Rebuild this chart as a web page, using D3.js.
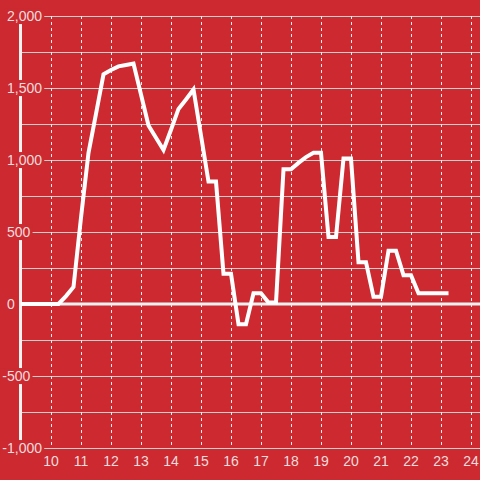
<!DOCTYPE html>
<html>
<head>
<meta charset="utf-8">
<script src="https://cdn.jsdelivr.net/npm/d3@7"></script>
<style>
  html, body { margin: 0; padding: 0; background: #cc2a30; }
  svg { display: block; font-family: "Liberation Sans", Arial, sans-serif; }
</style>
</head>
<body>
<svg id="chart"></svg>
<script>
// time of day (hours) and value
var times = [9, 9.25, 9.5, 9.75, 10, 10.25, 10.5, 10.75, 11, 11.25, 11.5, 11.75,
  12, 12.25, 12.5, 12.75, 13, 13.25, 13.5, 13.75, 14, 14.25, 14.5, 14.75,
  15, 15.25, 15.5, 15.75, 16, 16.25, 16.5, 16.75, 17, 17.25, 17.5, 17.75,
  18, 18.25, 18.5, 18.75, 19, 19.25, 19.5, 19.75, 20, 20.25, 20.5, 20.75,
  21, 21.25, 21.5, 21.75, 22, 22.25, 22.5, 22.75, 23, 23.25]
var values = [0, 0, 0, 0, 0, 0, 55, 118, 600, 1050, 1320, 1595,
  1625, 1650, 1660, 1670, 1455, 1240, 1155, 1070, 1210, 1355, 1420, 1490,
  1170, 850, 850, 210, 210, -140, -140, 75, 75, 10, 10, 935,
  935, 980, 1020, 1050, 1050, 465, 465, 1010, 1010, 290, 290, 50,
  50, 370, 370, 200, 200, 75, 75, 75, 75, 75]

var xTicks = [10, 11, 12, 13, 14, 15, 16, 17, 18, 19, 20, 21, 22, 23, 24]
var yTicks = [-1000, -500, 0, 500, 1000, 1500, 2000]
var yGrid = [-1000, -750, -500, -250, 250, 500, 750, 1000, 1250, 1500, 1750, 2000]

var width = 480
var height = 480
var bg = "#cc2a30"
var textColor = "#f3dcdd"

var svg = d3.select("#chart")
  .attr("width", width)
  .attr("height", height)

svg.append("rect")
  .attr("width", width)
  .attr("height", height)
  .attr("fill", bg)

var x = d3.scaleLinear().domain([9, 24.3]).range([21, 480])
var y = d3.scaleLinear().domain([-1000, 2000]).range([448, 16])

var axisX = x(9) - 0.5

// horizontal grid
svg.append("g")
  .selectAll("line")
  .data(yGrid)
  .enter()
  .append("line")
  .attr("x1", axisX)
  .attr("x2", width)
  .attr("y1", d => Math.round(y(d)) + 0.5)
  .attr("y2", d => Math.round(y(d)) + 0.5)
  .attr("stroke", "#cfcfcf")
  .attr("stroke-width", 1.2)

// vertical dashed grid
svg.append("g")
  .selectAll("line")
  .data(xTicks)
  .enter()
  .append("line")
  .attr("x1", d => Math.round(x(d)) + 0.5)
  .attr("x2", d => Math.round(x(d)) + 0.5)
  .attr("y1", y(2000))
  .attr("y2", y(-1000) - 2)
  .attr("stroke", "#eeeeee")
  .attr("stroke-width", 1)
  .attr("stroke-dasharray", "3,3")

// y axis line
svg.append("line")
  .attr("x1", axisX)
  .attr("x2", axisX)
  .attr("y1", y(2000))
  .attr("y2", y(-1000))
  .attr("stroke", "#f2f2f2")
  .attr("stroke-width", 3)

// zero line
svg.append("line")
  .attr("x1", axisX)
  .attr("x2", width)
  .attr("y1", y(0))
  .attr("y2", y(0))
  .attr("stroke", "#f2f2f2")
  .attr("stroke-width", 3)

// y labels with red backing
var fmt = d3.format(",")
var yLab = svg.append("g")
  .selectAll("g")
  .data(yTicks)
  .enter()
  .append("g")

yLab.append("text")
  .attr("x", 7)
  .attr("dx", d => d < 0 ? -4.7 : 0)
  .attr("y", d => y(d))
  .attr("dy", "0.36em")
  .attr("font-size", 14)
  .attr("fill", textColor)
  .text(d => fmt(d).replace("\u2212", "-"))

yLab.each(function(){
  var g = d3.select(this)
  var b = g.select("text").node().getBBox()
  g.insert("rect", "text")
    .attr("x", b.x - 2)
    .attr("y", b.y)
    .attr("width", b.width + 4)
    .attr("height", b.height)
    .attr("fill", bg)
})

// x labels
svg.append("g")
  .selectAll("text")
  .data(xTicks)
  .enter()
  .append("text")
  .attr("x", d => x(d))
  .attr("y", 466)
  .attr("text-anchor", "middle")
  .attr("font-size", 14)
  .attr("fill", textColor)
  .text(d => d)

// data line
var line = d3.line()
  .x((d, i) => x(times[i]))
  .y(d => y(d))

svg.append("path")
  .datum(values)
  .attr("d", line)
  .attr("fill", "none")
  .attr("stroke", "#ffffff")
  .attr("stroke-width", 4)
</script>
</body>
</html>
